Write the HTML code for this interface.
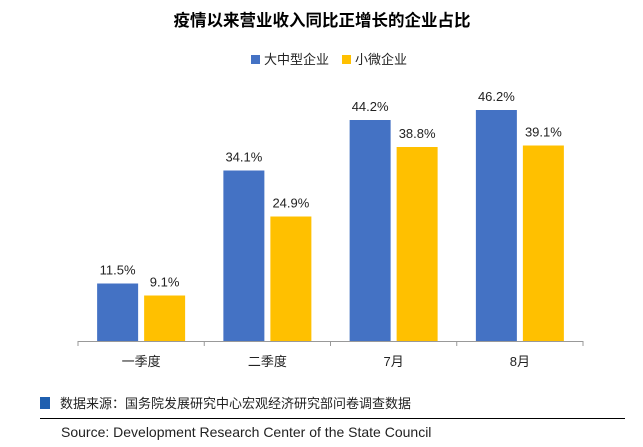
<!DOCTYPE html>
<html><head><meta charset="utf-8"><style>
body{margin:0;background:#fff;}
svg text{font-family:"Liberation Sans","Noto Sans CJK SC",sans-serif;}
</style></head><body>
<svg width="643" height="442" viewBox="0 0 643 442">
<text x="322" y="26" text-anchor="middle" font-size="16.5" font-weight="bold" fill="#000">疫情以来营业收入同比正增长的企业占比</text>
<g>
<rect x="251" y="55" width="9" height="9" fill="#4472C4"/>
<text x="264" y="64" font-size="13" fill="#222">大中型企业</text>
<rect x="342" y="55" width="9" height="9" fill="#FFC000"/>
<text x="355" y="64" font-size="13" fill="#222">小微企业</text>
</g>
<g id="plot"></g>
<rect x="40" y="397" width="10" height="12" fill="#1F5FAF"/>
<text x="60" y="408" font-size="13" fill="#222">数据来源：国务院发展研究中心宏观经济研究部问卷调查数据</text>
<line x1="40" y1="418.5" x2="625" y2="418.5" stroke="#000" stroke-width="1"/>
<text x="61" y="437" font-size="14" fill="#222">Source: Development Research Center of the State Council</text>
</svg>
<script>
const categories=["一季度","二季度","7月","8月"];
const largeValues=[11.5,34.1,44.2,46.2];
const smallValues=[9.1,24.9,38.8,39.1];
const NS="http://www.w3.org/2000/svg";
const g=document.getElementById("plot");
const x0=78,x1=583,base=341,pxPer=5;
const bw=(x1-x0)/categories.length;
const y=v=>base-v*pxPer;
function mk(t,a){const e=document.createElementNS(NS,t);for(const k in a)e.setAttribute(k,a[k]);g.appendChild(e);return e;}
categories.forEach((c,i)=>{
 const cx=x0+bw*(i+0.5);
 [[largeValues[i],"#4472C4",cx-44,"large"],[smallValues[i],"#FFC000",cx+3,"small"]].forEach(([v,col,bx,s])=>{
  const r=mk("rect",{x:bx,y:y(v),width:41,height:base-y(v),fill:col});
  
  
  const t=mk("text",{x:bx+20.5,y:y(v)-9,"text-anchor":"middle","font-size":"13",fill:"#222"});
  t.textContent=v.toFixed(1)+"%";
  
  
 });
 const l=mk("text",{x:cx,y:366,"text-anchor":"middle","font-size":"13",fill:"#222"});
 l.textContent=c;
 
 
});
const ax=mk("line",{x1:x0,y1:base+0.5,x2:x1,y2:base+0.5,stroke:"#999"});


for(let i=0;i<=categories.length;i++){
 const tx=x0+bw*i;
 const tk=mk("line",{x1:tx,y1:base,x2:tx,y2:base+5,stroke:"#999"});
 
 
}
</script>
</body></html>
